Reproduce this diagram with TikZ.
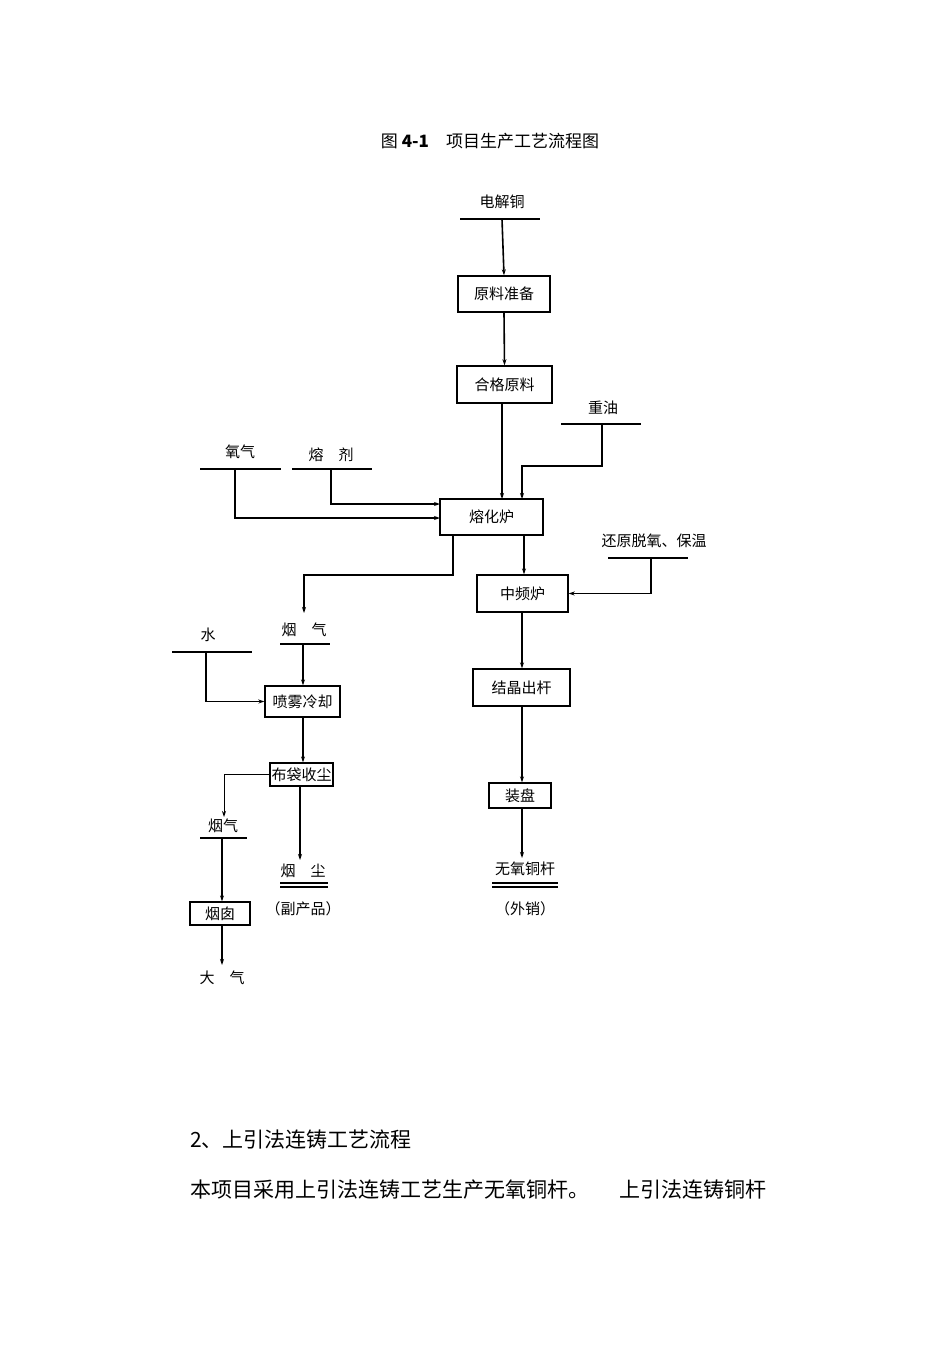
\documentclass[tikz,border=0pt]{standalone}
\usepackage{fontspec}
\setmainfont{Noto Sans CJK SC}
\usetikzlibrary{arrows.meta}
\begin{document}
\begin{tikzpicture}[x=1pt,y=-1pt,
  box/.style={draw,line width=1.4pt,minimum height=36pt,inner sep=0pt,font=\fontsize{15}{18}\selectfont},
  lbl/.style={font=\fontsize{15}{18}\selectfont,inner sep=0pt},
  bar/.style={line width=2.2pt},
  ln/.style={line width=1.6pt},
  arr/.style={ln,-{Stealth[length=6pt,width=4pt]}}]
\useasboundingbox (0,0) rectangle (950,1345);
\node[lbl,font=\fontsize{17}{20}\selectfont] (title) at (490,141) {图 \textbf{4-1}\quad 项目生产工艺流程图};
% top chain
\node[lbl] (djt) at (502,202) {电解铜};
\draw[bar] (460,219) -- (540,219);
\coordinate (djtb) at (502,219);
\node[box,minimum width=92pt] (ylzb) at (504,294) {原料准备};
\node[box,minimum width=95pt,minimum height=37pt] (hgyl) at (504.5,384.5) {合格原料};
\node[box,minimum width=103pt] (rhl) at (491.5,517) {熔化炉};
\node[box,minimum width=91pt,minimum height=37pt] (zpl) at (522.5,593.5) {中频炉};
\node[box,minimum width=97pt,minimum height=37pt] (jjcg) at (521.5,687.5) {结晶出杆};
\node[box,minimum width=62pt,minimum height=25pt] (zp) at (520,795.5) {装盘};
\node[lbl] (wytg) at (525,869) {无氧铜杆};
\draw[bar,line width=1.6pt] (492,883) -- (558,883) (492,887) -- (558,887);
\node[lbl] (wx) at (525,909) {（外销）};
\draw[arr] (djtb) -- (ylzb.north);
\draw[arr] (ylzb.south) -- (hgyl.north);
\draw[arr] (hgyl.south -| 502,0) -- (502,499);
\draw[arr] (524,535) -- (zpl.north -| 524,0);
\draw[arr] (522,612) -- (jjcg.north -| 522,0);
\draw[arr] (522,706) -- (zp.north -| 522,0);
\draw[arr] (522,808) -- (522,858);
% 重油
\node[lbl] (zy) at (603,408) {重油};
\draw[bar] (561,424) -- (641,424);
\coordinate (zyb) at (602,424);
\draw[arr] (zyb) |- (522,466) -- (522,499);
% 氧气, 熔剂
\node[lbl] (yq) at (240,452) {氧气};
\draw[bar] (200,469) -- (281,469);
\coordinate (yqb) at (235,469);
\node[lbl] (rj) at (331,455) {熔\quad 剂};
\draw[bar] (292,469) -- (372,469);
\coordinate (rjb) at (331,469);
\draw[arr] (yqb) |- (440,518);
\draw[arr,line width=1.2pt] (rjb) |- (440,504);
% 还原脱氧
\node[lbl] (hy) at (654,541) {还原脱氧、保温};
\draw[bar] (608,558) -- (688,558);
\coordinate (hyb) at (651,558);
\draw[arr] (hyb) |- (zpl.east);
% 烟气 branch
\draw[arr] (453,535) |- (304,575) -- (304,613);
\node[lbl] (yq2) at (304,630) {烟\quad 气};
\draw[bar] (280,644) -- (330,644);
\coordinate (yq2b) at (303,644);
\node[lbl] (shui) at (208,635) {水};
\draw[bar] (172,652) -- (252,652);
\coordinate (shuib) at (206,652);
\node[box,minimum width=75pt,minimum height=31pt] (pwlq) at (302.5,701.5) {喷雾冷却};
\node[box,minimum width=63pt,minimum height=23pt,line width=1.2pt] (bdsc) at (301.5,774.5) {布袋收尘};
\draw[arr] (yq2b) -- (pwlq.north -| 303,0);
\draw[arr] (shuib) |- (pwlq.west);
\draw[arr] (pwlq.south -| 303,0) -- (bdsc.north -| 303,0);
\draw[arr,line width=1pt] (bdsc.west) -| (224,817);
\node[lbl] (yq3) at (223,826) {烟气};
\draw[bar] (200,838) -- (247,838);
\coordinate (yq3b) at (222,838);
\node[box,minimum width=60pt,minimum height=23pt,line width=1.2pt] (yc) at (220,913.5) {烟囱};
\draw[arr,line width=1.2pt] (yq3b) -- (yc.north -| 222,0);
\draw[arr,line width=1.2pt] (yc.south -| 222,0) -- (222,965);
\node[lbl] (dq) at (222,978) {大\quad 气};
\draw[arr,line width=1.2pt] (bdsc.south -| 300,0) -- (300,860);
\node[lbl] (yc2) at (303,871) {烟\quad 尘};
\draw[line width=1.2pt] (280,883) -- (328,883) (280,887) -- (328,887);
\node[lbl] (fcp) at (303,909) {（副产品）};
% body text
\node[anchor=west,inner sep=0pt,font=\fontsize{21}{24}\selectfont] (t1) at (190,1140) {2、上引法连铸工艺流程};
\node[anchor=west,inner sep=0pt,font=\fontsize{21}{24}\selectfont] (t2) at (190,1190) {本项目采用上引法连铸工艺生产无氧铜杆。\hspace{30pt}上引法连铸铜杆};
\end{tikzpicture}
\end{document}
